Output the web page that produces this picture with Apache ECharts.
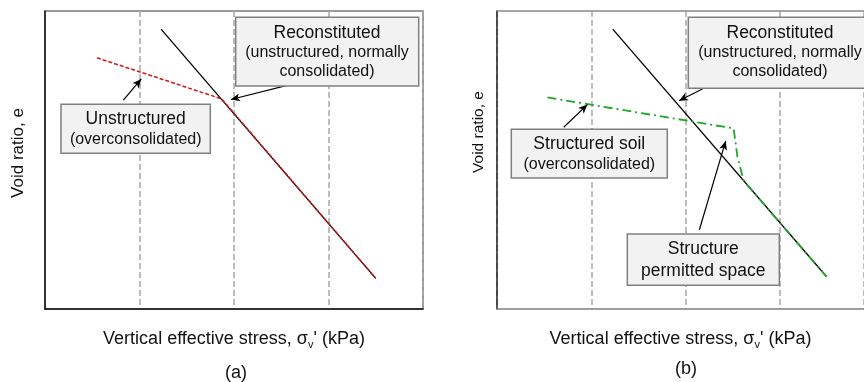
<!DOCTYPE html>
<html>
<head>
<meta charset="utf-8">
<script src="https://cdn.jsdelivr.net/npm/echarts@6/dist/echarts.min.js"></script>
<style>html,body{margin:0;padding:0;background:#fff}#c{width:864px;height:382px}</style>
</head>
<body>
<div id="c"></div>
<script>
// ---- data (arbitrary units: x = log stress, y = void ratio) ----
const reconA = [[1.228, 9.39], [3.5, 1.03]];
const unstructuredA = [[0.55, 8.43], [1.87, 7.05], [3.5, 1.03]];
const reconB = [[1.226, 9.39], [3.49, 1.09]];
const structuredB = [[0.534, 7.10], [2.507, 6.06], [2.547, 5.11], [2.614, 4.30], [3.49, 1.09]];
const arrowsA = [[[2.656, 7.58], [1.968, 7.03]], [[0.829, 7.01], [1.019, 7.72]]];
const arrowsB = [[[2.176, 7.38], [1.928, 6.99]], [[0.707, 6.10], [0.958, 6.86]], [[2.144, 2.66], [2.423, 5.64]]];
const xLabel = "Vertical effective stress, σ{sub|v}' (kPa)";
const yLabel = "Void ratio, e";
const panelLabels = ["(a)", "(b)"];

const FONT = "Liberation Sans, Arial, sans-serif";
const chart = echarts.init(document.getElementById('c'), null, {renderer: 'canvas'});

function xAx(gi, lineColor, max) {
  return {
    gridIndex: gi, type: 'value', min: 0, max: max, interval: 1,
    axisLine: {show: true, onZero: false, lineStyle: {color: lineColor, width: 1.5}},
    axisTick: {show: false}, axisLabel: {show: false},
    splitLine: {show: true, lineStyle: {color: '#a8a8a8', width: 1.5, type: [6, 3]}},
    name: xLabel, nameLocation: 'middle', nameGap: 20,
    nameTextStyle: {
      fontFamily: FONT, fontSize: 18, color: '#111',
      rich: {sub: {fontFamily: FONT, fontSize: 11, color: '#111', padding: [10, 0, 0, 0]}}
    }
  };
}
function topAx(gi, lineColor, max) {
  return {
    gridIndex: gi, type: 'value', min: 0, max: max, position: 'top',
    axisLine: {show: true, onZero: false, lineStyle: {color: lineColor, width: 1.5}},
    axisTick: {show: false}, axisLabel: {show: false}, splitLine: {show: false}
  };
}
function yAx(gi, lineColor) {
  return {
    gridIndex: gi, type: 'value', min: 0, max: 10,
    axisLine: {show: true, onZero: false, lineStyle: {color: lineColor, width: 1.5}},
    axisTick: {show: false}, axisLabel: {show: false}, splitLine: {show: false}
  };
}
function arrows(list) {
  return {
    silent: true, symbol: ['none', 'arrow'], symbolSize: [6, 9],
    lineStyle: {color: '#000', width: 1.2, type: 'solid'},
    label: {show: false}, emphasis: {disabled: true},
    data: list.map(a => [{coord: a[0]}, {coord: a[1]}])
  };
}
function box(x, y, w, h, lines, cx) {
  const els = [{
    type: 'rect', z: 100, shape: {x: x, y: y, width: w, height: h},
    style: {fill: '#f2f2f2', stroke: '#808080', lineWidth: 1.5}
  }];
  lines.forEach(l => els.push({
    type: 'text', z: 101, x: cx, y: l[1],
    style: {text: l[0], fontFamily: FONT, fontSize: l[2], fill: '#111', align: 'center', verticalAlign: 'middle'}
  }));
  return els;
}

const graphics = [].concat(
  box(235.7, 17.3, 183, 68.7, [["Reconstituted", 33, 17.5], ["(unstructured, normally", 53, 16], ["consolidated)", 72, 16]], 327),
  box(61, 104.3, 149.3, 49, [["Unstructured", 119, 17.5], ["(overconsolidated)", 140, 16]], 135.7),
  box(688.3, 17.3, 185, 71, [["Reconstituted", 33, 17.5], ["(unstructured, normally", 53, 16], ["consolidated)", 72, 16]], 780),
  box(511.3, 129.3, 156, 48.7, [["Structured soil", 144.3, 17.5], ["(overconsolidated)", 164.7, 16]], 589.3),
  box(627.3, 234, 152, 51.3, [["Structure", 249.3, 17.5], ["permitted space", 271, 17.5]], 703.3),
  [
    {type: 'text', z: 101, x: 18, y: 153, rotation: Math.PI / 2,
     style: {text: yLabel, fontFamily: FONT, fontSize: 17, fill: '#111', align: 'center', verticalAlign: 'middle'}},
    {type: 'text', z: 101, x: 479, y: 132, rotation: Math.PI / 2,
     style: {text: yLabel, fontFamily: FONT, fontSize: 15.5, fill: '#111', align: 'center', verticalAlign: 'middle'}},
    {type: 'text', z: 101, x: 236, y: 373,
     style: {text: panelLabels[0], fontFamily: FONT, fontSize: 18, fill: '#111', align: 'center', verticalAlign: 'middle'}},
    {type: 'text', z: 101, x: 686, y: 369,
     style: {text: panelLabels[1], fontFamily: FONT, fontSize: 18, fill: '#111', align: 'center', verticalAlign: 'middle'}}
  ]
);

chart.setOption({
  animation: false,
  backgroundColor: '#fff',
  grid: [
    {left: 45, top: 11, width: 378, height: 298, show: true, borderColor: '#7a7a7a', borderWidth: 1.5, backgroundColor: 'transparent'},
    {left: 497, top: 11, width: 367, height: 298, show: false}
  ],
  xAxis: [xAx(0, '#111', 4), xAx(1, '#808080', 3.888), topAx(1, '#8a8a8a', 3.888)],
  yAxis: [yAx(0, '#111'), yAx(1, '#222')],
  series: [
    {type: 'line', xAxisIndex: 0, yAxisIndex: 0, data: reconA, showSymbol: false, symbol: 'none',
     lineStyle: {color: '#000', width: 1.3}, z: 3, markLine: arrows(arrowsA)},
    {type: 'line', xAxisIndex: 0, yAxisIndex: 0, data: unstructuredA, showSymbol: false, symbol: 'none',
     lineStyle: {color: '#d01818', width: 1.5, type: [4, 2]}, z: 4},
    {type: 'line', xAxisIndex: 1, yAxisIndex: 1, data: reconB, showSymbol: false, symbol: 'none',
     lineStyle: {color: '#000', width: 1.3}, z: 3, markLine: arrows(arrowsB)},
    {type: 'line', xAxisIndex: 1, yAxisIndex: 1, data: structuredB, showSymbol: false, symbol: 'none',
     lineStyle: {color: '#22a52a', width: 1.8, type: [9, 4, 2, 4]}, z: 4}
  ],
  graphic: graphics
});
</script>
</body>
</html>
